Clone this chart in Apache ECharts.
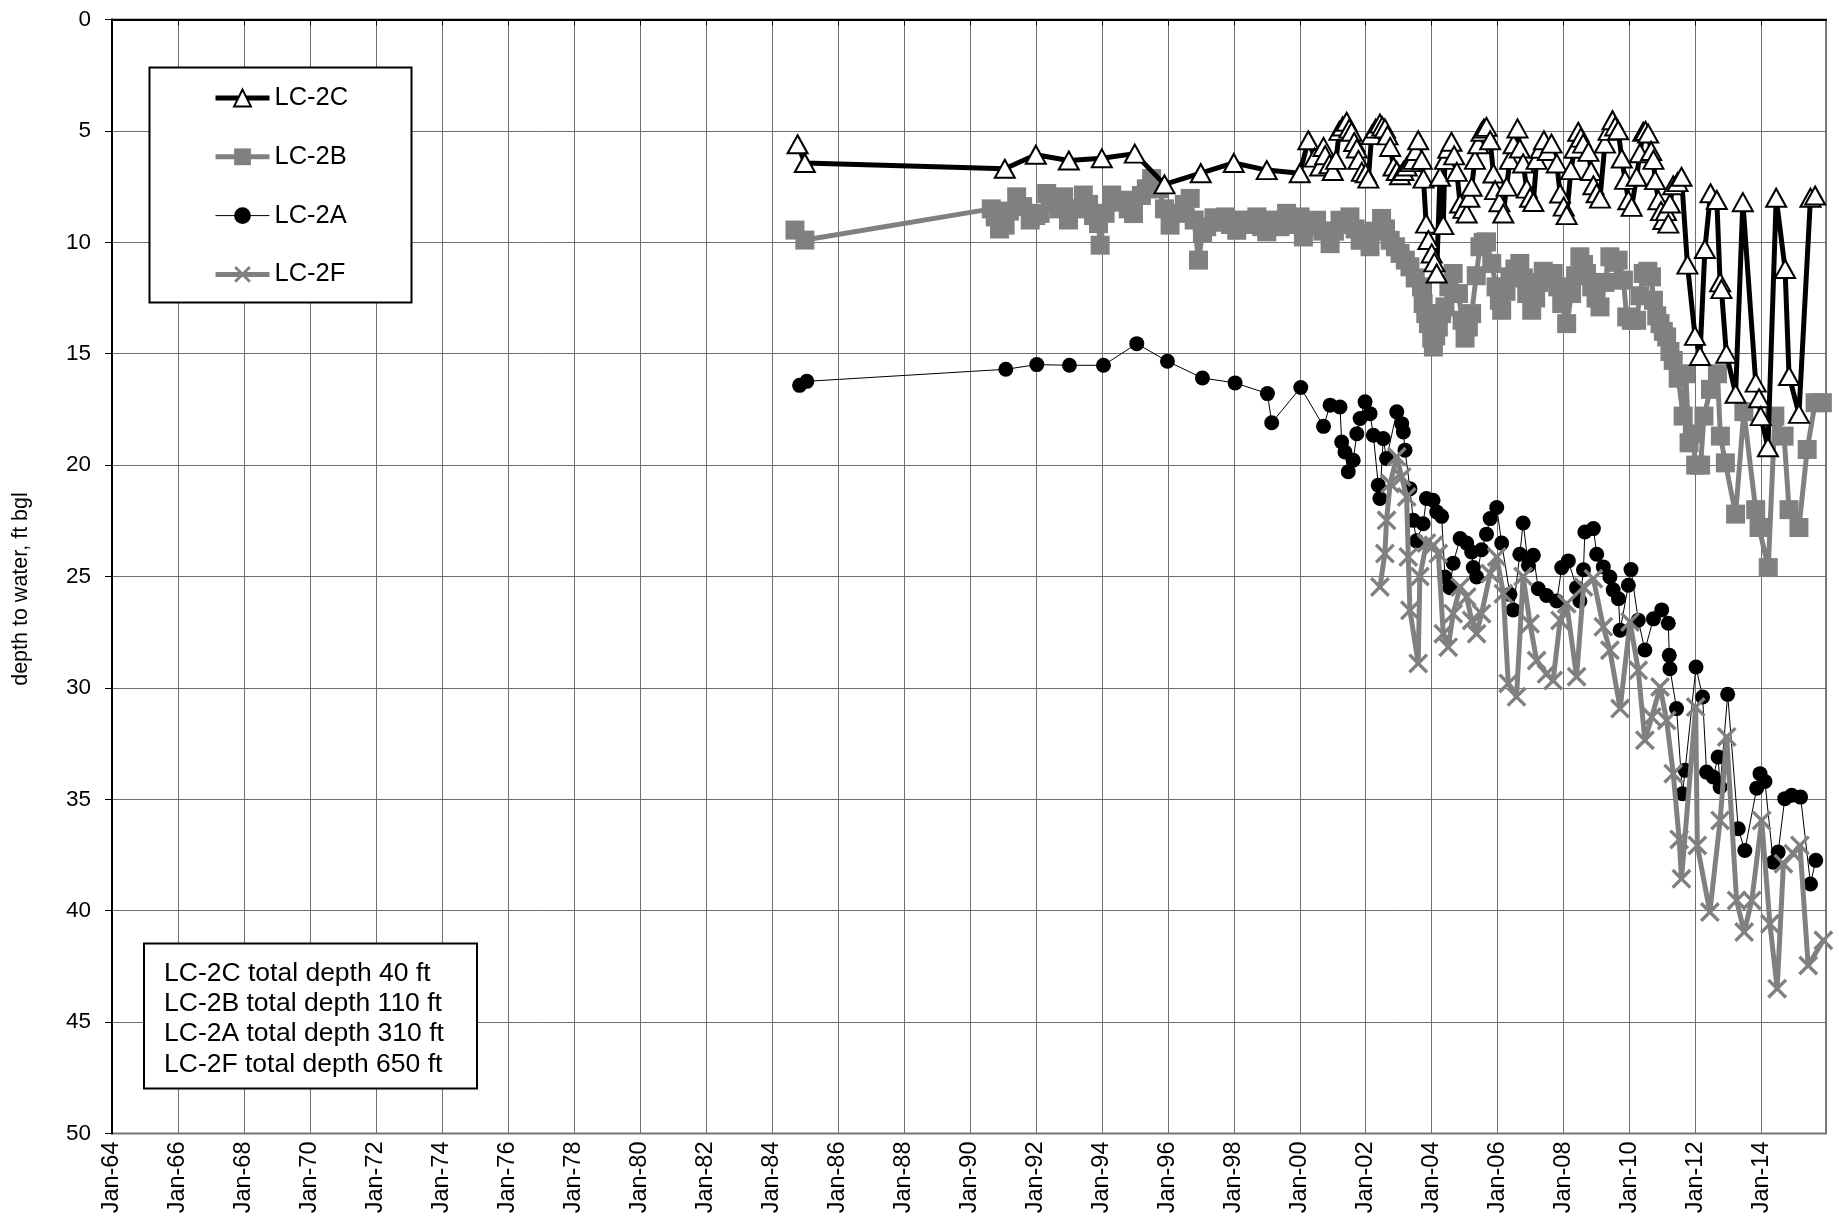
<!DOCTYPE html>
<html>
<head>
<meta charset="utf-8">
<script src="https://cdn.jsdelivr.net/npm/echarts@6/dist/echarts.min.js"></script>
<style>
html,body{margin:0;padding:0;background:#fff;}
#chart{width:1839px;height:1225px;}
</style>
</head>
<body>
<div id="chart"></div>
<script>
// ---- DATA (x = decimal year, y = depth to water, ft bgl) ----
var seriesNames = ['LC-2C', 'LC-2B', 'LC-2A', 'LC-2F'];
var yTicks = [0, 5, 10, 15, 20, 25, 30, 35, 40, 45, 50];
var yTitle = 'depth to water, ft bgl';
var notes = ['LC-2C total depth 40 ft', 'LC-2B total depth 110 ft', 'LC-2A total depth 310 ft', 'LC-2F total depth 650 ft'];

var lc2C = [[1984.78,5.6],[1985.0,6.44],[1991.06,6.7],[1992.0,6.07],[1993.0,6.33],[1994.0,6.23],[1995.0,6.02],[1995.9,7.4],[1997.0,6.9],[1998.0,6.44],[1999.0,6.76],[2000.0,6.9],
[2000.26,5.42],[2000.45,6.2],[2000.62,6.6],[2000.72,5.72],[2000.77,6.09],[2000.9,6.5],[2001.0,6.8],[2001.1,6.3],[2001.2,5.0],[2001.3,4.8],[2001.42,4.59],[2001.5,4.9],[2001.57,5.04],[2001.65,5.5],[2001.73,5.79],[2001.78,6.3],[2001.88,6.84],[2002.0,6.9],[2002.08,7.14],[2002.18,5.19],[2002.3,4.9],[2002.43,4.67],[2002.5,4.8],[2002.58,4.89],[2002.66,5.2],[2002.74,5.72],[2002.84,6.6],[2002.94,6.8],[2003.04,6.99],[2003.14,6.8],[2003.24,6.6],[2003.34,6.4],[2003.44,6.3],[2003.52,5.9],[2003.59,5.42],[2003.7,6.3],[2003.75,7.14],[2003.83,9.16],[2003.9,9.9],[2004.0,10.5],[2004.08,10.9],[2004.15,11.4],[2004.25,7.06],[2004.35,9.23],[2004.4,6.3],[2004.5,5.8],[2004.6,5.49],[2004.68,6.1],[2004.76,6.84],[2004.86,8.26],[2004.96,8.5],[2005.06,8.71],[2005.14,8.0],[2005.21,7.51],[2005.31,6.3],[2005.41,5.6],[2005.51,5.04],[2005.58,4.9],[2005.66,4.82],[2005.77,5.42],[2005.87,6.91],[2005.92,7.66],[2006.05,8.2],[2006.17,8.71],[2006.27,7.5],[2006.37,6.3],[2006.48,5.6],[2006.6,4.89],[2006.67,5.79],[2006.77,6.46],[2006.88,7.59],[2006.98,8.0],[2007.08,8.19],[2007.18,6.3],[2007.3,5.8],[2007.4,5.42],[2007.52,5.9],[2007.63,5.57],[2007.79,6.46],[2007.89,7.81],[2008.0,8.4],[2008.09,8.78],[2008.22,6.76],[2008.33,5.8],[2008.44,5.04],[2008.52,5.3],[2008.59,5.57],[2008.75,5.94],[2008.83,6.8],[2008.9,7.44],[2009.0,7.8],[2009.1,8.04],[2009.25,5.57],[2009.36,5.0],[2009.48,4.52],[2009.56,4.8],[2009.65,4.97],[2009.76,6.24],[2009.86,7.2],[2009.96,8.11],[2010.06,8.41],[2010.21,7.06],[2010.31,6.0],[2010.41,5.04],[2010.48,5.0],[2010.56,5.12],[2010.65,5.9],[2010.72,6.3],[2010.77,7.21],[2010.87,8.11],[2010.95,8.6],[2011.02,9.0],[2011.1,8.6],[2011.17,9.16],[2011.22,8.26],[2011.32,7.44],[2011.45,7.3],[2011.57,7.06],[2011.75,11.0],[2011.98,14.2],[2012.13,15.1],[2012.28,10.3],[2012.45,7.8],[2012.64,8.1],[2012.74,11.8],[2012.78,12.1],[2012.93,15.0],[2013.21,16.8],[2013.43,8.2],[2013.82,16.3],[2013.92,17.0],[2013.97,17.8],[2014.19,19.2],[2014.44,8.0],[2014.71,11.2],[2014.83,16.0],[2015.13,17.7],[2015.48,8.0],[2015.62,7.9]];

var lc2B = [[1984.7,9.45],[1985.0,9.9],[1990.65,8.5],[1990.77,8.86],[1990.9,9.4],[1991.07,9.23],[1991.2,8.6],[1991.42,7.96],[1991.6,8.4],[1991.83,9.0],[1992.0,8.8],[1992.13,8.7],[1992.33,7.81],[1992.5,8.2],[1992.7,8.5],[1992.84,7.96],[1992.99,9.0],[1993.2,8.5],[1993.44,7.88],[1993.6,8.3],[1993.75,8.8],[1993.9,9.16],[1993.95,10.13],[1994.1,8.7],[1994.3,7.88],[1994.5,8.2],[1994.66,8.11],[1994.8,8.5],[1994.96,8.71],[1995.2,7.9],[1995.35,7.6],[1995.51,7.14],[1995.72,7.6],[1995.9,8.5],[1996.07,9.23],[1996.3,8.7],[1996.5,8.3],[1996.68,8.03],[1996.8,9.0],[1996.93,10.8],[1997.05,9.6],[1997.18,9.3],[1997.4,8.9],[1997.6,9.1],[1997.74,8.86],[1997.9,9.2],[1998.09,9.46],[1998.3,9.0],[1998.5,9.2],[1998.7,8.86],[1998.85,9.3],[1999.0,9.53],[1999.2,9.0],[1999.4,9.3],[1999.6,8.7],[1999.8,9.2],[2000.01,8.86],[2000.11,9.76],[2000.3,9.3],[2000.51,9.01],[2000.7,9.5],[2000.92,10.06],[2001.05,9.5],[2001.22,9.01],[2001.35,9.2],[2001.52,8.86],[2001.68,9.4],[2001.83,9.91],[2002.0,9.6],[2002.13,10.2],[2002.3,9.5],[2002.48,8.93],[2002.6,9.4],[2002.74,9.91],[2002.9,10.2],[2003.04,10.5],[2003.2,10.8],[2003.34,11.1],[2003.5,11.6],[2003.69,12.0],[2003.74,12.75],[2003.82,13.2],[2003.9,13.65],[2004.0,14.3],[2004.05,14.7],[2004.12,14.2],[2004.2,13.8],[2004.3,13.2],[2004.4,12.9],[2004.52,12.0],[2004.65,11.4],[2004.81,12.3],[2004.92,13.5],[2005.01,14.3],[2005.11,13.8],[2005.21,13.2],[2005.35,11.5],[2005.46,10.2],[2005.56,10.0],[2005.66,9.98],[2005.82,10.95],[2005.95,12.0],[2006.05,12.6],[2006.12,13.05],[2006.25,12.2],[2006.37,11.55],[2006.52,11.2],[2006.67,10.95],[2006.78,11.6],[2006.88,12.3],[2007.03,13.05],[2007.15,12.5],[2007.25,11.8],[2007.38,11.3],[2007.52,11.6],[2007.68,11.4],[2007.82,12.0],[2007.94,12.75],[2008.09,13.65],[2008.24,12.3],[2008.36,11.5],[2008.49,10.65],[2008.6,11.0],[2008.69,11.4],[2008.85,12.0],[2008.98,12.5],[2009.1,12.9],[2009.25,11.8],[2009.4,10.65],[2009.52,10.9],[2009.65,10.8],[2009.81,11.7],[2009.91,13.35],[2010.05,13.5],[2010.21,13.5],[2010.31,12.4],[2010.41,11.4],[2010.55,11.3],[2010.66,11.55],[2010.72,12.6],[2010.82,13.3],[2010.92,13.65],[2011.02,14.0],[2011.12,14.25],[2011.22,14.9],[2011.32,15.3],[2011.47,16.1],[2011.62,17.8],[2011.7,15.9],[2011.8,19.0],[2011.9,18.6],[2012.0,20.0],[2012.15,20.0],[2012.25,17.8],[2012.45,16.6],[2012.66,15.9],[2012.75,18.7],[2012.9,19.9],[2013.21,22.2],[2013.46,17.6],[2013.82,22.0],[2013.92,22.8],[2014.2,24.6],[2014.4,17.8],[2014.68,18.7],[2014.83,22.0],[2015.13,22.8],[2015.38,19.3],[2015.62,17.2],[2015.84,17.2]];

var lc2A = [[1984.84,16.42],[1985.06,16.24],[1991.09,15.7],[1992.03,15.49],[1993.02,15.52],[1994.05,15.52],[1995.06,14.55],[1995.99,15.34],[1997.05,16.09],[1998.04,16.31],[1999.02,16.79],[1999.15,18.1],[2000.03,16.52],[2000.72,18.26],[2000.92,17.31],[2001.22,17.39],[2001.27,18.96],[2001.37,19.41],[2001.47,20.3],[2001.62,19.78],[2001.73,18.59],[2001.83,17.91],[2001.98,17.16],[2002.13,17.69],[2002.23,18.66],[2002.38,20.9],[2002.43,21.5],[2002.53,18.81],[2002.63,19.7],[2002.94,17.61],[2003.09,18.14],[2003.14,18.51],[2003.19,19.33],[2003.34,21.06],[2003.44,22.48],[2003.54,23.4],[2003.74,22.63],[2003.84,21.5],[2004.04,21.58],[2004.15,22.1],[2004.3,22.3],[2004.4,25.02],[2004.55,25.5],[2004.65,24.4],[2004.86,23.3],[2005.06,23.5],[2005.21,23.9],[2005.26,24.6],[2005.36,25.02],[2005.51,23.8],[2005.66,23.1],[2005.77,22.4],[2005.97,21.9],[2006.12,23.5],[2006.37,25.8],[2006.47,26.5],[2006.67,24.0],[2006.77,22.6],[2006.93,24.5],[2007.08,24.05],[2007.23,25.55],[2007.48,25.85],[2007.79,26.1],[2007.94,24.6],[2008.14,24.3],[2008.39,25.5],[2008.49,26.1],[2008.6,24.7],[2008.64,23.0],[2008.9,22.85],[2009.0,24.0],[2009.2,24.57],[2009.4,25.02],[2009.5,25.6],[2009.66,26.0],[2009.71,27.41],[2009.96,25.39],[2010.04,24.69],[2010.26,26.96],[2010.46,28.3],[2010.72,26.9],[2010.97,26.5],[2011.17,27.1],[2011.2,28.54],[2011.22,29.14],[2011.42,30.93],[2011.6,34.75],[2011.68,33.7],[2012.01,29.06],[2012.21,30.41],[2012.33,33.78],[2012.53,34.0],[2012.68,33.1],[2012.74,34.45],[2012.97,30.29],[2013.29,36.32],[2013.49,37.3],[2013.85,34.5],[2013.95,33.85],[2014.1,34.2],[2014.35,37.82],[2014.5,37.37],[2014.7,34.97],[2014.91,34.82],[2015.18,34.9],[2015.48,38.8],[2015.64,37.74]];

var lc2F = [[2002.43,25.47],[2002.58,23.97],[2002.63,22.48],[2002.74,20.83],[2002.94,19.63],[2003.09,20.53],[2003.24,21.43],[2003.29,24.12],[2003.34,26.52],[2003.59,28.9],[2003.64,25.0],[2003.84,23.5],[2004.05,23.6],[2004.2,23.97],[2004.35,27.57],[2004.5,28.17],[2004.65,26.67],[2004.86,25.47],[2005.06,25.92],[2005.21,26.97],[2005.36,27.57],[2005.51,26.67],[2005.77,24.87],[2005.97,24.12],[2006.17,25.77],[2006.32,29.8],[2006.57,30.4],[2006.77,25.0],[2006.98,27.12],[2007.18,28.77],[2007.48,29.37],[2007.68,29.67],[2007.89,26.97],[2008.09,26.22],[2008.39,29.5],[2008.6,25.47],[2008.9,25.1],[2009.2,27.26],[2009.4,28.31],[2009.71,30.93],[2010.01,27.04],[2010.26,29.21],[2010.46,32.35],[2010.67,31.31],[2010.92,29.96],[2011.12,31.46],[2011.32,33.85],[2011.5,36.8],[2011.57,38.57],[2012.0,30.86],[2012.05,37.07],[2012.43,40.06],[2012.74,35.95],[2012.94,32.2],[2013.24,39.54],[2013.47,40.96],[2013.7,39.54],[2014.0,35.95],[2014.25,40.59],[2014.47,43.5],[2014.66,37.89],[2014.96,37.44],[2015.16,37.07],[2015.41,42.46],[2015.87,41.33]];

// ---- CHART ----
var FONT = '"Liberation Sans", Arial, sans-serif';
var GRAY = '#808080';
var X_SYMBOL = 'path://M0,1.2L1.2,0L10,8.8L8.8,10ZM8.8,0L10,1.2L1.2,10L0,8.8Z';

var chart = echarts.init(document.getElementById('chart'), null, {renderer: 'canvas'});

var option = {
  animation: false,
  backgroundColor: '#ffffff',
  textStyle: {fontFamily: FONT},
  grid: {left: 112, top: 19.5, right: 13, bottom: 91.5, show: true, borderColor: GRAY, borderWidth: 2, backgroundColor: 'transparent'},
  xAxis: {
    type: 'value', min: 1964, max: 2015.95, interval: 2,
    axisLine: {lineStyle: {color: '#000', width: 2}},
    axisTick: {show: true, length: 6, lineStyle: {color: '#000', width: 1}},
    axisLabel: {rotate: 90, fontSize: 23.5, color: '#000', fontFamily: FONT, margin: 8, showMaxLabel: false,
      formatter: function (v) { var yy = Math.round(v) % 100; return 'Jan-' + (yy < 10 ? '0' + yy : '' + yy); }},
    splitLine: {show: true, lineStyle: {color: '#707070', width: 1}}
  },
  yAxis: {
    type: 'value', inverse: true, min: yTicks[0], max: yTicks[yTicks.length - 1], interval: yTicks[1] - yTicks[0],
    axisLine: {lineStyle: {color: '#000', width: 2}},
    axisTick: {show: true, length: 7, lineStyle: {color: '#000', width: 1}},
    axisLabel: {fontSize: 22.5, color: '#000', fontFamily: FONT, margin: 21},
    splitLine: {show: true, lineStyle: {color: '#707070', width: 1}}
  },
  legend: {
    data: seriesNames, orient: 'vertical', left: 213, top: 85, padding: 0,
    itemWidth: 54, itemHeight: 21, itemGap: 32.8, selectedMode: false, z: 6,
    lineStyle: {width: 'inherit'},
    textStyle: {fontSize: 25.5, color: '#000', fontFamily: FONT}
  },
  graphic: [
    {type: 'rect', z: 5, shape: {x: 149.5, y: 67.5, width: 262, height: 235}, style: {fill: '#fff', stroke: '#000', lineWidth: 2}},
    {type: 'rect', z: 5, shape: {x: 144, y: 943.5, width: 333, height: 145}, style: {fill: '#fff', stroke: '#000', lineWidth: 2}},
    {type: 'text', z: 6, x: 164, y: 958.5, style: {text: notes.join('\n'), fontSize: 26.5, lineHeight: 30.2, fill: '#000', fontFamily: FONT}},
    {type: 'text', z: 6, x: 21.5, y: 589, rotation: Math.PI / 2, style: {text: yTitle, fontSize: 21.5, fill: '#000', fontFamily: FONT, align: 'center', verticalAlign: 'middle'}}
  ],
  series: [
    {name: 'LC-2B', type: 'line', data: lc2B, symbol: 'rect', symbolSize: 19, z: 2,
      lineStyle: {color: GRAY, width: 5}, itemStyle: {color: GRAY, borderWidth: 0}},
    {name: 'LC-2C', type: 'line', data: lc2C, symbol: 'triangle', symbolSize: [20, 18], z: 3,
      lineStyle: {color: '#000', width: 5}, itemStyle: {color: '#fff', borderColor: '#000', borderWidth: 2}},
    {name: 'LC-2A', type: 'line', data: lc2A, symbol: 'circle', symbolSize: 15, z: 3,
      lineStyle: {color: '#000', width: 1}, itemStyle: {color: '#000', borderWidth: 0}},
    {name: 'LC-2F', type: 'line', data: lc2F, symbol: X_SYMBOL, symbolSize: 20, z: 4,
      lineStyle: {color: GRAY, width: 5}, itemStyle: {color: GRAY, borderWidth: 0}}
  ]
};
chart.setOption(option);
</script>
</body>
</html>
